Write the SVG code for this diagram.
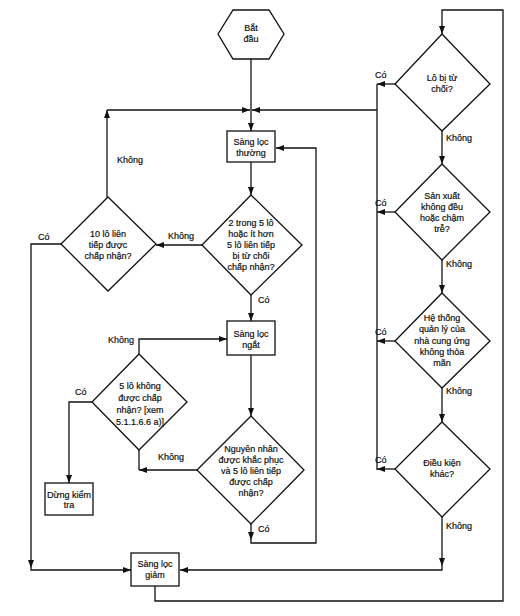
<svg xmlns="http://www.w3.org/2000/svg" width="520" height="616" viewBox="0 0 520 616">
<style>
  .shape { fill: #ffffff; stroke: #111111; stroke-width: 1.3; }
  .t { font-family: "Liberation Sans", Arial, sans-serif; font-size: 9px; fill: #111111; stroke: #111111; stroke-width: 0.2; text-anchor: middle; }
  .l { font-family: "Liberation Sans", Arial, sans-serif; font-size: 9px; fill: #111111; stroke: #111111; stroke-width: 0.2; text-anchor: start; }
  .c { fill: none; stroke: #111111; stroke-width: 1.3; }
  .ca { fill: none; stroke: #111111; stroke-width: 1.3; marker-end: url(#arrow); }
</style>
<defs>
  <marker id="arrow" markerUnits="userSpaceOnUse" markerWidth="8" markerHeight="6" refX="8" refY="3" orient="auto">
    <path d="M0,0 L8,3 L0,6 z" fill="#111111"/>
  </marker>
</defs>
<rect x="0" y="0" width="520" height="616" fill="#ffffff"/>

<g id="connectors">
  <path class="ca" d="M251,59 V131"/>
  <path class="ca" d="M107,197 V110"/>
  <path class="ca" d="M107,110 H250"/>
  <path class="ca" d="M377,110 H252"/>
  <path class="ca" d="M251,162 V195"/>
  <path class="ca" d="M202,245 H156"/>
  <path class="ca" d="M251,295 V321"/>
  <path class="ca" d="M61,244 H31 V568"/>
  <path class="ca" d="M31,568 V570 H131"/>
  <path class="ca" d="M251,355 V416"/>
  <path class="ca" d="M197,470 H139"/>
  <path class="c" d="M139,450 V470"/>
  <path class="ca" d="M139,354 V339 H227"/>
  <path class="ca" d="M92,402 H69 V483"/>
  <path class="ca" d="M251,524 V540"/>
  <path class="ca" d="M251,540 V543 H316 V148 H276"/>
  <path class="ca" d="M155,586 V601 H503 V10 H442 V34"/>
  <path class="ca" d="M395,84 H377"/>
  <path class="c" d="M377,84 V470"/>
  <path class="ca" d="M395,212 H377"/>
  <path class="ca" d="M395,341 H377"/>
  <path class="ca" d="M395,469 H377"/>
  <path class="ca" d="M442,131 V164"/>
  <path class="ca" d="M442,260 V293"/>
  <path class="ca" d="M442,388 V422"/>
  <path class="ca" d="M442,517 V566"/>
  <path class="ca" d="M442,566 V570 H180"/>
  <text class="l" x="117" y="163">Không</text>
  <text class="l" x="168" y="239">Không</text>
  <text class="l" x="38" y="240">Có</text>
  <text class="l" x="258" y="303">Có</text>
  <text class="l" x="108" y="343">Không</text>
  <text class="l" x="75" y="395">Có</text>
  <text class="l" x="158" y="460">Không</text>
  <text class="l" x="258" y="532">Có</text>
  <text class="l" x="375" y="78">Có</text>
  <text class="l" x="446" y="141">Không</text>
  <text class="l" x="375" y="206">Có</text>
  <text class="l" x="446" y="267">Không</text>
  <text class="l" x="375" y="335">Có</text>
  <text class="l" x="446" y="394">Không</text>
  <text class="l" x="375" y="463">Có</text>
  <text class="l" x="446" y="529">Không</text>
</g>

<g id="start">
  <polygon class="shape" points="218,34 233,10 269,10 284,34 269,59 233,59"/>
  <text class="t" x="251" y="31">Bắt</text>
  <text class="t" x="251" y="42">đầu</text>
</g>

<g id="sang-loc-thuong">
  <rect class="shape" x="227" y="131" width="48" height="31"/>
  <text class="t" x="251" y="145">Sàng lọc</text>
  <text class="t" x="251" y="156">thường</text>
</g>

<g id="decision-2-trong-5">
  <polygon class="shape" points="251,195 302,245 251,295 202,245"/>
  <text class="t" x="251" y="226">2 trong 5 lô</text>
  <text class="t" x="251" y="237">hoặc ít hơn</text>
  <text class="t" x="251" y="248">5 lô liên tiếp</text>
  <text class="t" x="251" y="259">bị từ chối</text>
  <text class="t" x="251" y="270">chấp nhận?</text>
</g>

<g id="decision-10-lo">
  <polygon class="shape" points="108,197 156,244 108,291 61,244"/>
  <text class="t" x="108" y="237">10 lô liên</text>
  <text class="t" x="108" y="248">tiếp được</text>
  <text class="t" x="108" y="259">chấp nhận?</text>
</g>

<g id="sang-loc-ngat">
  <rect class="shape" x="227" y="321" width="48" height="34"/>
  <text class="t" x="251" y="337">Sàng lọc</text>
  <text class="t" x="251" y="348">ngắt</text>
</g>

<g id="decision-5-lo-khong">
  <polygon class="shape" points="139,354 187,402 139,450 92,402"/>
  <text class="t" x="140" y="389">5 lô không</text>
  <text class="t" x="140" y="401">được chấp</text>
  <text class="t" x="140" y="413">nhận? [xem</text>
  <text class="t" x="140" y="425">5.1.1.6.6 a)]</text>
</g>

<g id="dung-kiem-tra">
  <rect class="shape" x="45" y="483" width="48" height="32"/>
  <text class="t" x="69" y="498">Dừng kiểm</text>
  <text class="t" x="69" y="508">tra</text>
</g>

<g id="decision-nguyen-nhan">
  <polygon class="shape" points="251,416 304,470 251,524 197,470"/>
  <text class="t" x="251" y="452">Nguyên nhân</text>
  <text class="t" x="251" y="463">được khắc phục</text>
  <text class="t" x="251" y="474">và 5 lô liên tiếp</text>
  <text class="t" x="251" y="485">được chấp</text>
  <text class="t" x="251" y="496">nhận?</text>
</g>

<g id="sang-loc-giam">
  <rect class="shape" x="131" y="553" width="48" height="33"/>
  <text class="t" x="155" y="567">Sàng lọc</text>
  <text class="t" x="155" y="578">giảm</text>
</g>

<g id="decision-lo-bi-tu-choi">
  <polygon class="shape" points="442,34 490,84 442,131 395,84"/>
  <text class="t" x="442" y="81">Lô bị từ</text>
  <text class="t" x="442" y="92">chối?</text>
</g>

<g id="decision-san-xuat">
  <polygon class="shape" points="442,164 490,212 442,260 395,212"/>
  <text class="t" x="442" y="199">Sản xuất</text>
  <text class="t" x="442" y="210">không đều</text>
  <text class="t" x="442" y="221">hoặc chậm</text>
  <text class="t" x="442" y="232">trễ?</text>
</g>

<g id="decision-he-thong">
  <polygon class="shape" points="442,293 490,341 442,388 395,341"/>
  <text class="t" x="442" y="321">Hệ thống</text>
  <text class="t" x="442" y="332">quản lý của</text>
  <text class="t" x="442" y="344">nhà cung ứng</text>
  <text class="t" x="442" y="355">không thỏa</text>
  <text class="t" x="442" y="366">mãn</text>
</g>

<g id="decision-dieu-kien-khac">
  <polygon class="shape" points="442,422 490,469 442,517 395,469"/>
  <text class="t" x="442" y="466">Điều kiện</text>
  <text class="t" x="442" y="477">khác?</text>
</g>
</svg>
